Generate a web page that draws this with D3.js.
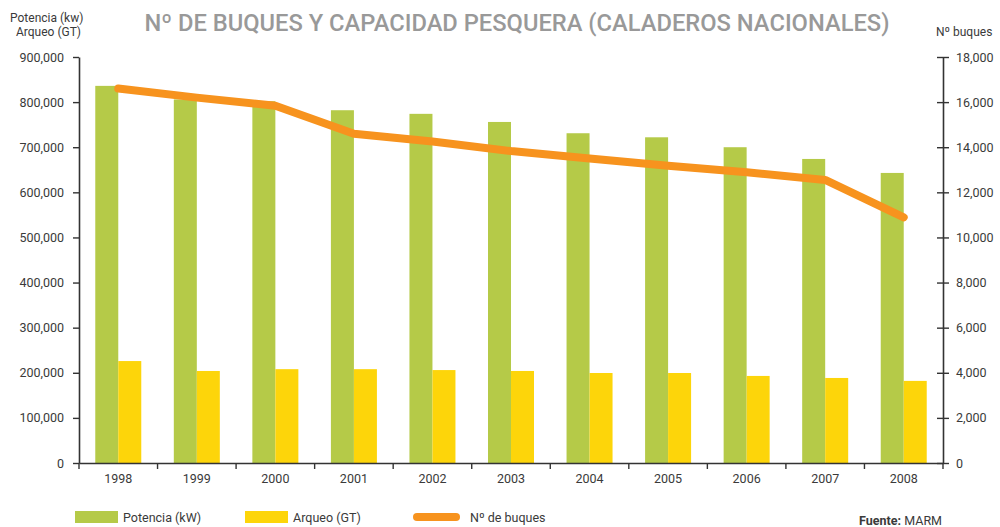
<!DOCTYPE html>
<html><head><meta charset="utf-8">
<script src="https://cdn.jsdelivr.net/npm/d3@7"></script>
<style>body{margin:0;background:#fff}svg{display:block;font-family:"Roboto Condensed","Roboto",sans-serif}</style>
</head><body>
<svg id="c" width="1000" height="527"></svg>
<script>
const years = ["1998","1999","2000","2001","2002","2003","2004","2005","2006","2007","2008"];
const potencia = [836000,806000,802000,782000,774000,756000,731000,722000,700000,674000,643000];
const arqueo = [226000,204000,208000,208000,206000,204000,199500,199500,193000,188500,182000];
const buques = [16600,16200,15840,14600,14250,13830,13500,13180,12890,12550,10890];
const leftTicks = [0,100000,200000,300000,400000,500000,600000,700000,800000,900000];
const rightTicks = [0,2000,4000,6000,8000,10000,12000,14000,16000,18000];

const svg = d3.select("#c");
const L = 79, R = 943, T = 57, B = 463;
const x = d3.scaleBand().domain(years).range([L, R]).paddingInner(0).paddingOuter(0);
const inner = d3.scaleBand().domain(["p","a"]).range([0, 46]);
const yL = d3.scaleLinear().domain([0, 900000]).range([B, T]);
const yR = d3.scaleLinear().domain([0, 18000]).range([B, T]);
const fmt = d3.format(",");
const green = "#b5ca48", yellow = "#fdd50a", orange = "#f7931e", axisC = "#333", txt = "#3a3a3a";

const off = (x.bandwidth() - 46) / 2;
const g = svg.append("g");
g.selectAll("rect.p").data(years).join("rect")
  .attr("x", d => x(d) + off + inner("p")).attr("width", inner.bandwidth())
  .attr("y", (d,i) => yL(potencia[i])).attr("height", (d,i) => B - yL(potencia[i])).attr("fill", green);
g.selectAll("rect.a").data(years).join("rect")
  .attr("x", d => x(d) + off + inner("a")).attr("width", inner.bandwidth())
  .attr("y", (d,i) => yL(arqueo[i])).attr("height", (d,i) => B - yL(arqueo[i])).attr("fill", yellow);

const line = d3.line().x((d,i) => x(years[i]) + x.bandwidth()/2).y(d => yR(d));
g.append("path").datum(buques).attr("d", line).attr("fill","none")
  .attr("stroke", orange).attr("stroke-width", 8).attr("stroke-linecap","round").attr("stroke-linejoin","round");

// left axis
const la = svg.append("g").attr("transform", `translate(${L},0)`)
  .call(d3.axisLeft(yL).tickValues(leftTicks).tickFormat(fmt).tickSize(6).tickSizeOuter(0));
la.select(".domain").attr("stroke", axisC).attr("stroke-width", 1.6);
la.selectAll(".tick line").attr("stroke", axisC).attr("stroke-width", 1.4);
la.selectAll(".tick text").attr("x", -15).attr("fill", txt).style("font-size","12.5px").style("font-family","Roboto, sans-serif");

// right axis
const ra = svg.append("g").attr("transform", `translate(${R},0)`)
  .call(d3.axisRight(yR).tickValues(rightTicks).tickFormat(fmt).tickSize(6).tickSizeOuter(0));
ra.select(".domain").attr("stroke", axisC).attr("stroke-width", 1.6);
ra.selectAll(".tick line").attr("stroke", axisC).attr("stroke-width", 1.4).attr("x1", -6);
ra.selectAll(".tick text").attr("x", 13).attr("fill", txt).style("font-size","12.5px").style("font-family","Roboto, sans-serif");

// x axis
const xa = svg.append("g").attr("transform", `translate(0,${B})`)
  .call(d3.axisBottom(x).tickSize(0));
xa.select(".domain").attr("stroke", axisC).attr("stroke-width", 1.6);
xa.selectAll(".tick text").attr("y", 11).attr("fill", txt).style("font-size","12.5px").style("font-family","Roboto, sans-serif");
xa.selectAll("line.bd").data(d3.range(years.length + 1)).join("line").attr("class","bd")
  .attr("x1", i => L + i * x.bandwidth()).attr("x2", i => L + i * x.bandwidth())
  .attr("y1", 0).attr("y2", 6).attr("stroke", axisC).attr("stroke-width", 1.4);

// titles
svg.append("text").attr("x", 517).attr("y", 31).attr("text-anchor","middle")
  .attr("fill","#999").style("font-size","24px").style("font-family","Roboto, sans-serif").style("font-weight","500")
  .attr("textLength", 745).attr("lengthAdjust","spacingAndGlyphs")
  .text("Nº DE BUQUES Y CAPACIDAD PESQUERA (CALADEROS NACIONALES)");
svg.append("text").attr("x", 10).attr("y", 22).attr("fill", txt).style("font-size","12px").style("font-family","Roboto, sans-serif").text("Potencia (kw)");
svg.append("text").attr("x", 16).attr("y", 36).attr("fill", txt).style("font-size","12px").style("font-family","Roboto, sans-serif").text("Arqueo (GT)");
svg.append("text").attr("x", 936).attr("y", 36).attr("fill", txt).style("font-size","12px").style("font-family","Roboto, sans-serif").text("Nº buques");

// legend
const leg = svg.append("g").style("font-family","Roboto, sans-serif").style("font-size","12.5px");
leg.append("rect").attr("x",75).attr("y",511).attr("width",43).attr("height",12).attr("fill",green);
leg.append("text").attr("x",123).attr("y",522).attr("fill",txt).text("Potencia (kW)");
leg.append("rect").attr("x",245).attr("y",511).attr("width",43).attr("height",12).attr("fill",yellow);
leg.append("text").attr("x",293).attr("y",522).attr("fill",txt).text("Arqueo (GT)");
leg.append("line").attr("x1",417).attr("x2",456).attr("y1",517).attr("y2",517).attr("stroke",orange).attr("stroke-width",8).attr("stroke-linecap","round");
leg.append("text").attr("x",470).attr("y",522).attr("fill",txt).text("Nº de buques");
const f = svg.append("text").attr("x",942).attr("y",525).attr("text-anchor","end").attr("fill",txt).style("font-family","Roboto, sans-serif").style("font-size","12.5px");
f.append("tspan").style("font-weight","bold").text("Fuente: ");
f.append("tspan").text("MARM");
</script>
</body></html>
